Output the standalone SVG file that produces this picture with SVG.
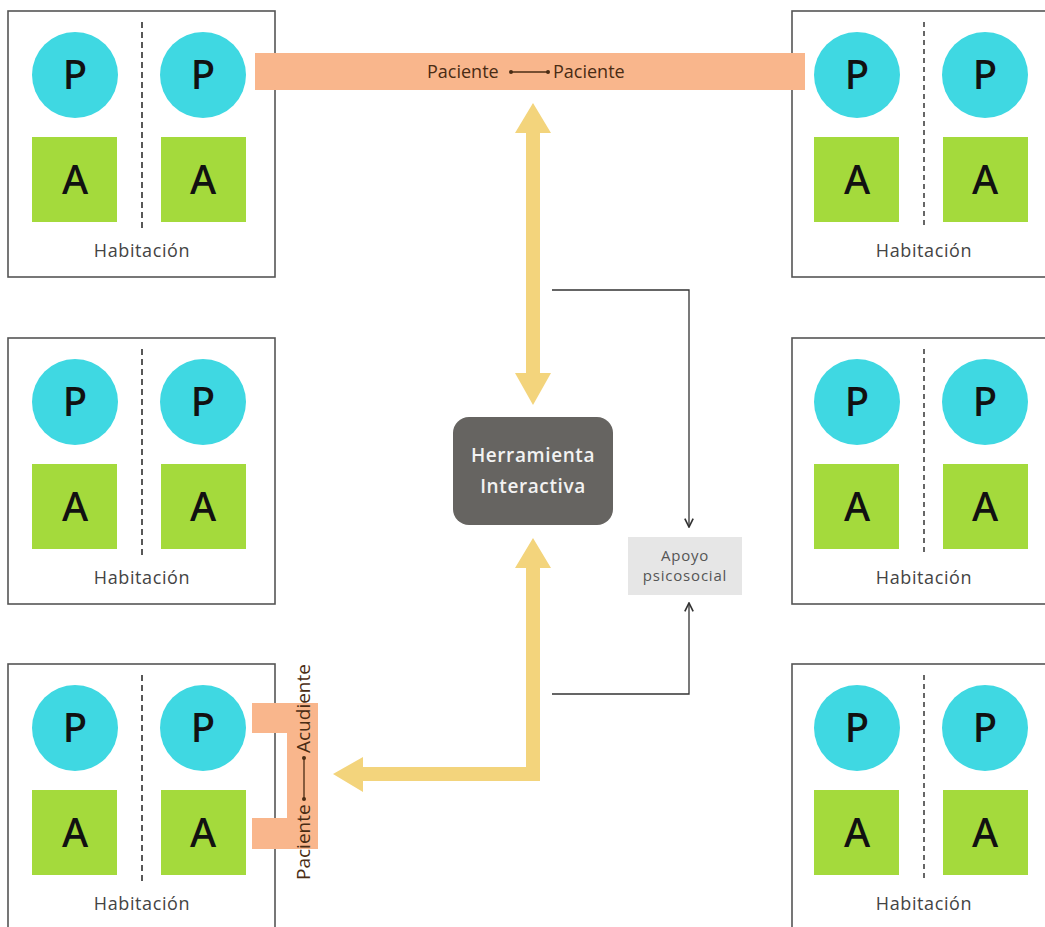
<svg xmlns="http://www.w3.org/2000/svg" width="1045" height="927" viewBox="0 0 1045 927">
  <defs>
    <style>
      .room { fill: #ffffff; stroke: #555555; stroke-width: 1.6; }
      .divider { stroke: #222222; stroke-width: 1.5; stroke-dasharray: 6 4; }
      .divider-grey { stroke: #666666; stroke-width: 2; stroke-dasharray: 5 4; }
      .pat { fill: #3fd8e2; }
      .att { fill: #a4da3c; }
      .letter { font-family: "Noto Sans", "Liberation Sans", sans-serif; font-size: 40px; font-weight: 500; fill: #111111; text-anchor: middle; }
      .roomlabel { font-family: "Open Sans", "Liberation Sans", sans-serif; font-size: 18px; letter-spacing: 0.6px; fill: #444444; text-anchor: middle; }
      .link { fill: #f9b68c; }
      .linktext { font-family: "Open Sans", "Liberation Sans", sans-serif; font-size: 18px; fill: #4a2c14; }
      .sidetext { font-family: "Open Sans", "Liberation Sans", sans-serif; font-size: 19px; fill: #4a2c14; }
      .flow { fill: #f3d47c; }
      .thin { fill: none; stroke: #333333; stroke-width: 1.3; }
      .tooltext { font-family: "Open Sans", "Liberation Sans", sans-serif; font-size: 19px; font-weight: 600; letter-spacing: 0.6px; fill: #f2f2f2; text-anchor: middle; }
      .supporttext { font-family: "Open Sans", "Liberation Sans", sans-serif; font-size: 15px; letter-spacing: 0.8px; fill: #555555; text-anchor: middle; }
    </style>
    <marker id="chev" viewBox="0 0 10 10" refX="9" refY="5" markerWidth="8" markerHeight="8" orient="auto">
      <path d="M1,1 L9,5 L1,9" fill="none" stroke="#333333" stroke-width="1.6"/>
    </marker>
    <!-- two beds: patient circle + attendant square each -->
    <g id="beds">
      <circle class="pat" cx="67" cy="64" r="43"/>
      <circle class="pat" cx="195" cy="64" r="43"/>
      <rect class="att" x="24" y="126" width="85" height="85"/>
      <rect class="att" x="153" y="126" width="85" height="85"/>
      <text class="letter" x="67" y="78">P</text>
      <text class="letter" x="195" y="78">P</text>
      <text class="letter" x="67" y="183">A</text>
      <text class="letter" x="195" y="183">A</text>
      <text class="roomlabel" x="134" y="246">Habitación</text>
    </g>
    <g id="room">
      <rect class="room" x="0" y="0" width="267" height="266"/>
      <line class="divider" x1="134" y1="11" x2="134" y2="218"/>
      <use href="#beds"/>
    </g>
    <g id="room-r">
      <rect class="room" x="0" y="0" width="267" height="266"/>
      <line class="divider-grey" x1="132" y1="11" x2="132" y2="218"/>
      <use href="#beds" x="-2"/>
    </g>
  </defs>

  <rect width="1045" height="927" fill="#ffffff"/>

  <g id="room-top-left"><use href="#room" x="8" y="11"/></g>
  <g id="room-top-right"><use href="#room-r" x="792" y="11"/></g>
  <g id="room-mid-left"><use href="#room" x="8" y="338"/></g>
  <g id="room-mid-right"><use href="#room-r" x="792" y="338"/></g>
  <g id="room-bottom-left"><use href="#room" x="8" y="664"/></g>
  <g id="room-bottom-right"><use href="#room-r" x="792" y="664"/></g>

  <!-- patient-to-patient link across rooms -->
  <g id="link-patients">
    <rect class="link" x="255" y="53" width="550" height="37"/>
    <text class="linktext" x="427" y="78">Paciente</text>
    <line x1="511" y1="72" x2="548" y2="72" stroke="#4a2c14" stroke-width="1.3"/>
    <circle cx="511" cy="72" r="2" fill="#4a2c14"/>
    <circle cx="548" cy="72" r="2" fill="#4a2c14"/>
    <text class="linktext" x="553" y="78">Paciente</text>
  </g>

  <!-- patient-to-attendant link in one room -->
  <g id="link-attendant">
    <path class="link" d="M252,703 H318 V849 H252 V818 H287 V733 H252 Z"/>
    <g transform="translate(310,768) rotate(-90)">
      <text class="sidetext" x="-112" y="0">Paciente</text>
      <line x1="-31" y1="-6" x2="10" y2="-6" stroke="#4a2c14" stroke-width="1.3"/>
      <circle cx="-31" cy="-6" r="2" fill="#4a2c14"/>
      <circle cx="10" cy="-6" r="2" fill="#4a2c14"/>
      <text class="sidetext" x="15" y="0">Acudiente</text>
    </g>
  </g>

  <g id="connectors">
    <!-- two-way arrow between the link and the tool -->
    <path class="flow" d="M533,103 L551,133 L540,133 L540,373 L551,373 L533,405 L515,373 L526,373 L526,133 L515,133 Z"/>
    <!-- arrow from the tool down and left into the room -->
    <path class="flow" d="M533,538 L551,568 L540,568 L540,781 L363,781 L363,792 L333,774 L363,757 L363,767 L526,767 L526,568 L515,568 Z"/>
    <!-- thin lines to psychosocial support -->
    <path class="thin" d="M552,290 H689 V527" marker-end="url(#chev)"/>
    <path class="thin" d="M552,694 H689 V603" marker-end="url(#chev)"/>
  </g>

  <g id="tool">
    <rect x="453" y="417" width="160" height="108" rx="16" fill="#666461"/>
    <text class="tooltext" x="533" y="462">Herramienta</text>
    <text class="tooltext" x="533" y="493">Interactiva</text>
  </g>

  <g id="support">
    <rect x="628" y="537" width="114" height="58" fill="#e6e6e6"/>
    <text class="supporttext" x="685" y="561">Apoyo</text>
    <text class="supporttext" x="685" y="581">psicosocial</text>
  </g>
</svg>
